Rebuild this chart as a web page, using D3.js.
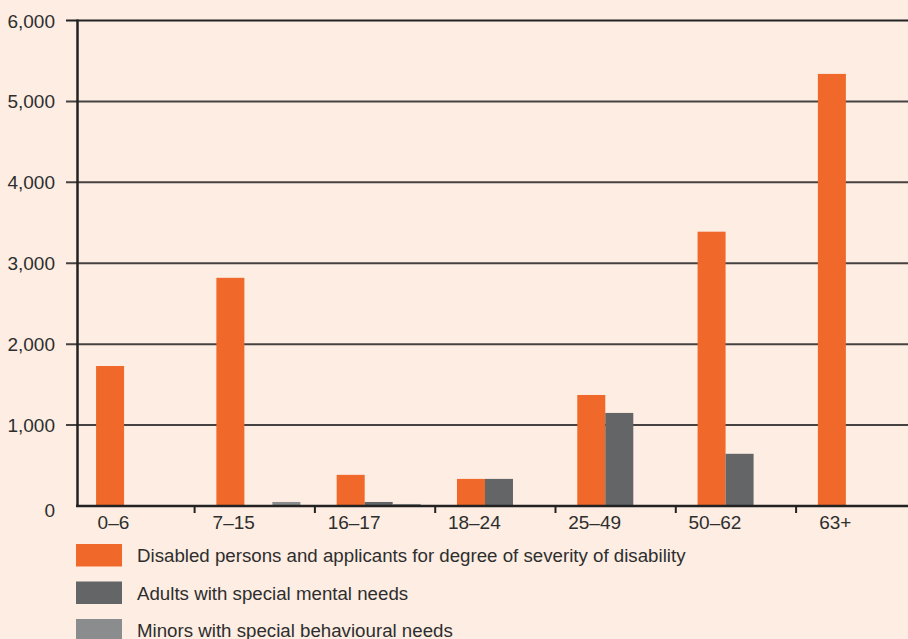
<!DOCTYPE html>
<html><head><meta charset="utf-8">
<script src="https://cdn.jsdelivr.net/npm/d3@7"></script>
<style>
html,body{margin:0;padding:0;background:#fdede2;}
svg{display:block;font-family:"Liberation Sans",Arial,sans-serif;}
</style></head>
<body><svg id="c" width="908" height="639"></svg>
<script>
const categories = ["0–6","7–15","16–17","18–24","25–49","50–62","63+"];
const seriesNames = ["Disabled persons and applicants for degree of severity of disability","Adults with special mental needs","Minors with special behavioural needs"];
const disabled = [1730, 2820, 385, 335, 1372, 3390, 5340];
const mental = [0, 0, 50, 335, 1150, 645, 0];
const behavioural = [0, 50, 25, 0, 0, 0, 0];
const yTicks = [0,1000,2000,3000,4000,5000,6000];
const colors = ["#f0692a","#636566","#8b8c8d"];

const seriesValues = [disabled, mental, behavioural];
const svg = d3.select("#c");
const W = 908;
const x0 = d3.scaleBand().domain(categories).range([74.3, 74.3 + 7*120.3]).paddingInner(0).paddingOuter(0);
const x1 = d3.scaleBand().domain(d3.range(3)).range([0, x0.bandwidth()]).paddingInner(0).paddingOuter(0.648).align(0.6);
const y = d3.scaleLinear().domain([0,6000]).range([506, 20.5]);

// gridlines
const grid = svg.append("g");
grid.selectAll("line").data(yTicks.filter(d=>d>0)).join("line")
  .attr("x1", 66).attr("x2", W)
  .attr("y1", d=>y(d)).attr("y2", d=>y(d))
  .attr("stroke", d=> d===6000 ? "#222" : "#464242").attr("stroke-width", 2);

// bars
const groups = svg.append("g").selectAll("g").data(categories).join("g")
  .attr("transform", c=>`translate(${x0(c)},0)`);
groups.selectAll("rect").data((c,i)=>seriesValues.map((s,k)=>({k, v:s[i]}))).join("rect")
  .filter(d=>d.v>0)
  .attr("x", d=>x1(d.k)).attr("width", x1.bandwidth())
  .attr("y", d=>y(d.v)).attr("height", d=>y(0)-y(d.v))
  .attr("fill", d=>colors[d.k]);

// y axis line
svg.append("line").attr("x1",77.5).attr("x2",77.5).attr("y1",y(6000)-1).attr("y2",y(0)+1)
  .attr("stroke","#222").attr("stroke-width",2.5);
// x axis line
svg.append("line").attr("x1",76).attr("x2",W).attr("y1",y(0)).attr("y2",y(0))
  .attr("stroke","#222").attr("stroke-width",2.5);

// x ticks at band boundaries
const bounds = categories.slice(1).map(c=>x0(c)).concat([x0(categories[6])+x0.bandwidth()]);
svg.append("g").selectAll("line").data(bounds).join("line")
  .attr("x1",d=>d).attr("x2",d=>d).attr("y1",y(0)).attr("y2",y(0)+7)
  .attr("stroke","#222").attr("stroke-width",2);

// x labels
svg.append("g").selectAll("text").data(categories).join("text")
  .attr("x", c=>x0(c)+x0.bandwidth()/2 - 21).attr("y", 529)
  .attr("text-anchor","middle").attr("font-size",19).attr("fill","#2e2e2e").text(d=>d);

// y labels
const fmt = d3.format(",");
svg.append("g").selectAll("text").data(yTicks).join("text")
  .attr("x", 55).attr("y", d=> d===0 ? y(d)+10.5 : y(d)+7)
  .attr("text-anchor","end").attr("font-size",19).attr("fill","#2e2e2e").text(d=>fmt(d));

// legend
const lg = svg.append("g").selectAll("g").data(seriesNames).join("g")
  .attr("transform",(d,i)=>`translate(76,${544 + i*37.5})`);
lg.append("rect").attr("width",46).attr("height",22.5).attr("fill",(d,i)=>colors[i]);
lg.append("text").attr("x",61).attr("y",18).attr("font-size",18.7).attr("fill","#2e2e2e").text(d=>d);
</script></body></html>
